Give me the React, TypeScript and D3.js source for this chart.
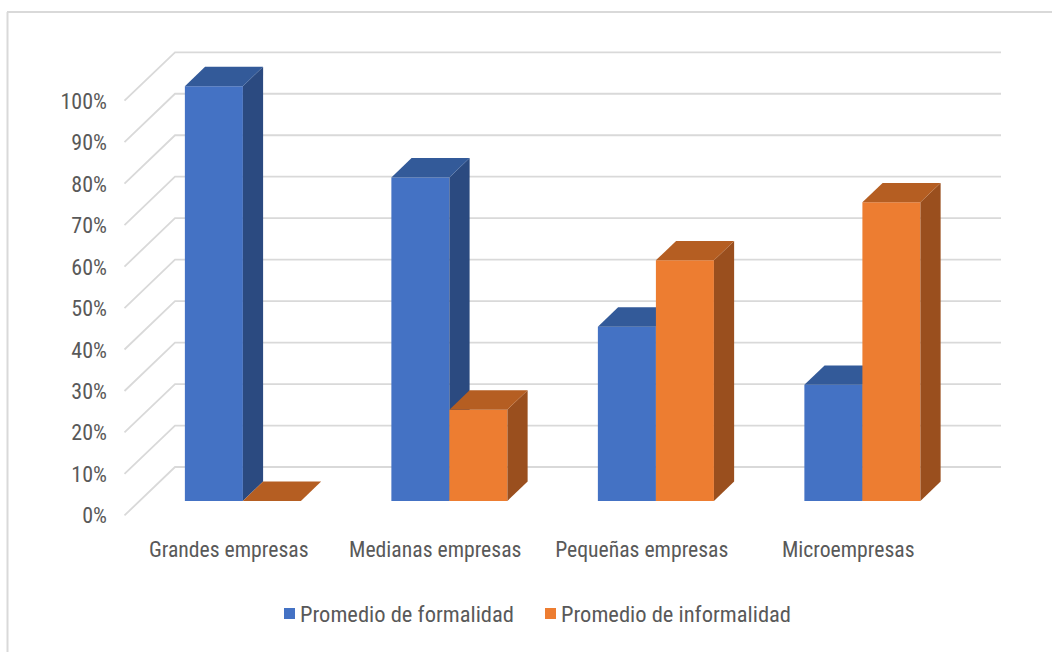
import React from "react";
import * as d3 from "d3";

const categories = ["Grandes empresas", "Medianas empresas", "Pequeñas empresas", "Microempresas"];
const seriesNames = ["Promedio de formalidad", "Promedio de informalidad"];
const formalidad = [1.0, 0.78, 0.42, 0.28];
const informalidad = [0.0, 0.22, 0.58, 0.72];
const yTicks = [0, 0.1, 0.2, 0.3, 0.4, 0.5, 0.6, 0.7, 0.8, 0.9, 1.0];

const W = 1052;
const H = 652;
const FONT = "'Liberation Sans Narrow', 'Arial Narrow', 'Roboto Condensed', sans-serif";

const colors = [
  { front: "#4472C4", top: "#335A99", side: "#2B4A80" },
  { front: "#ED7D31", top: "#B55E22", side: "#9A4F1E" },
];

export default function App() {
  const x0 = 124.5, x1 = 950.5;
  const DX = 50.5, DY = 48.4;
  const dFront = 0.3, dBack = 0.7;

  const x = d3.scaleBand<string>().domain(categories).range([x0, x1]).paddingInner(0.438).paddingOuter(0.219);
  const xCat = d3.scaleBand<string>().domain(categories).range([x0, x1]);
  const xs = d3.scaleBand<string>().domain(seriesNames).range([0, x.bandwidth()]);
  const y = d3.scaleLinear().domain([0, 1]).range([515.4, 100.7]);

  const P = (px: number, v: number, d: number): [number, number] => [px + d * DX, y(v) - d * DY];
  const poly = (pts: [number, number][]) => pts.map((p) => p.join(",")).join(" ");

  const data = [formalidad, informalidad];
  const bars: JSX.Element[] = [];
  categories.forEach((c, ci) => {
    seriesNames.forEach((s, si) => {
      const v = data[si][ci];
      const xl = (x(c) as number) + (xs(s) as number);
      const xr = xl + xs.bandwidth();
      const col = colors[si];
      const front = [P(xl, 0, dFront), P(xr, 0, dFront), P(xr, v, dFront), P(xl, v, dFront)];
      const side = [P(xr, 0, dFront), P(xr, 0, dBack), P(xr, v, dBack), P(xr, v, dFront)];
      const top = [P(xl, v, dFront), P(xr, v, dFront), P(xr, v, dBack), P(xl, v, dBack)];
      bars.push(
        <g key={c + s}>
          {v > 0 && <polygon points={poly(front)} fill={col.front} />}
          {v > 0 && <polygon points={poly(side)} fill={col.side} />}
          <polygon points={poly(top)} fill={col.top} />
        </g>
      );
    });
  });

  return (
    <svg width={W} height={H} style={{ position: "absolute", left: 0, top: 0, background: "#fff" }}>
      <rect x={0} y={0} width={W} height={H} fill="#fff" />
      <line x1={7.5} y1={12} x2={7.5} y2={H} stroke="#d9d9d9" strokeWidth={2} />
      <line x1={7} y1={12} x2={W} y2={12} stroke="#d9d9d9" strokeWidth={2} />
      {yTicks.map((t) => {
        const a = P(x0, t, 0);
        const b = P(x0, t, 1);
        const c = P(x1, t, 1);
        return (
          <g key={t}>
            <polyline points={poly([a, b, c])} fill="none" stroke="#d9d9d9" strokeWidth={1.8} />
            <text x={107} y={y(t) + 8} textAnchor="end" fontFamily={FONT} fontSize={22} fill="#595959">
              {d3.format(".0%")(t)}
            </text>
          </g>
        );
      })}
      {bars}
      {categories.map((c) => (
        <text key={c} x={(xCat(c) as number) + xCat.bandwidth() / 2 + 1} y={557} textAnchor="middle" fontFamily={FONT} fontSize={21.7} fill="#595959">
          {c}
        </text>
      ))}
      {seriesNames.map((s, i) => {
        const lx = i === 0 ? 284 : 545;
        return (
          <g key={s}>
            <rect x={lx} y={608} width={11} height={11} fill={colors[i].front} />
            <text x={lx + 16} y={622} fontFamily={FONT} fontSize={22.5} fill="#595959">
              {s}
            </text>
          </g>
        );
      })}
    </svg>
  );
}
